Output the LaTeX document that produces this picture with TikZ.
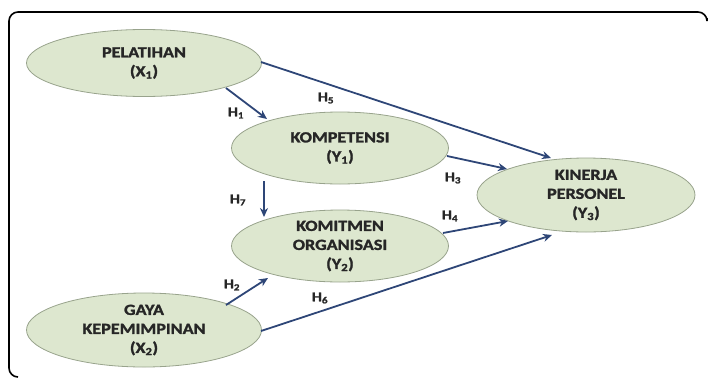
\documentclass[tikz,border=0pt]{standalone}
\usepackage{fontspec}
\setmainfont{Carlito}[FakeStretch=1.17, BoldFeatures={FakeBold=1.6}]
\usetikzlibrary{shapes.geometric,arrows.meta}
\definecolor{ellfill}{HTML}{DDE7CF}
\definecolor{elldraw}{HTML}{98A38C}
\definecolor{arrcol}{HTML}{2E4677}
\tikzset{
  var/.style={ellipse, draw=elldraw, line width=0.8pt, fill=ellfill, inner sep=0pt,
    align=center, font=\bfseries\fontsize{15.5}{19}\selectfont, text=black!85},
  link/.style={draw=arrcol, line width=1.8pt, -{Stealth[length=9pt,width=8pt]}},
  hlab/.style={font=\bfseries\fontsize{13.5}{15}\selectfont, text=black!85, inner sep=1pt},
  frame/.style={draw=black, line width=1.6pt, rounded corners=9pt}
}
\begin{document}
\begin{tikzpicture}[x=1pt,y=-1pt]
\useasboundingbox (0,0) rectangle (709,378);
\draw[frame] (707,18) |- (9,12) |- (18,377);

\node[var, minimum width=235pt, minimum height=67pt] (x1) at (144,63) {PELATIHAN\\(X\textsubscript{1})};
\node[var, minimum width=217pt, minimum height=72pt] (y1) at (340,148) {KOMPETENSI\\(Y\textsubscript{1})};
\node[var, minimum width=217pt, minimum height=72pt] (y2) at (340,246) {KOMITMEN\\ORGANISASI\\(Y\textsubscript{2})};
\node[var, minimum width=235pt, minimum height=74pt] (x2) at (144,330) {GAYA\\KEPEMIMPINAN\\(X\textsubscript{2})};
\node[var, minimum width=218pt, minimum height=74pt] (y3) at (586,195) {KINERJA\\PERSONEL\\(Y\textsubscript{3})};

\coordinate (h1s) at (226,88);  \coordinate (h1e) at (267,119);
\coordinate (h5s) at (261,62);  \coordinate (h5e) at (551,158);
\coordinate (h3s) at (447,156); \coordinate (h3e) at (507,169);
\coordinate (h7s) at (264,181); \coordinate (h7e) at (264,217);
\coordinate (h2s) at (226,305); \coordinate (h2e) at (268,278);
\coordinate (h4s) at (443,233); \coordinate (h4e) at (508,221);
\coordinate (h6s) at (261,331); \coordinate (h6e) at (552,235);

\draw[link] (h1s) -- (h1e);
\draw[link] (h5s) -- (h5e);
\draw[link] (h3s) -- (h3e);
\draw[link] (h7s) -- (h7e);
\draw[link] (h2s) -- (h2e);
\draw[link] (h4s) -- (h4e);
\draw[link] (h6s) -- (h6e);

\node[hlab] (l1) at (236,113) {H\textsubscript{1}};
\node[hlab] (l5) at (326,98) {H\textsubscript{5}};
\node[hlab] (l3) at (453,178) {H\textsubscript{3}};
\node[hlab] (l7) at (238,200) {H\textsubscript{7}};
\node[hlab] (l2) at (232,285) {H\textsubscript{2}};
\node[hlab] (l4) at (450,216) {H\textsubscript{4}};
\node[hlab] (l6) at (320,298) {H\textsubscript{6}};
\end{tikzpicture}
\end{document}
